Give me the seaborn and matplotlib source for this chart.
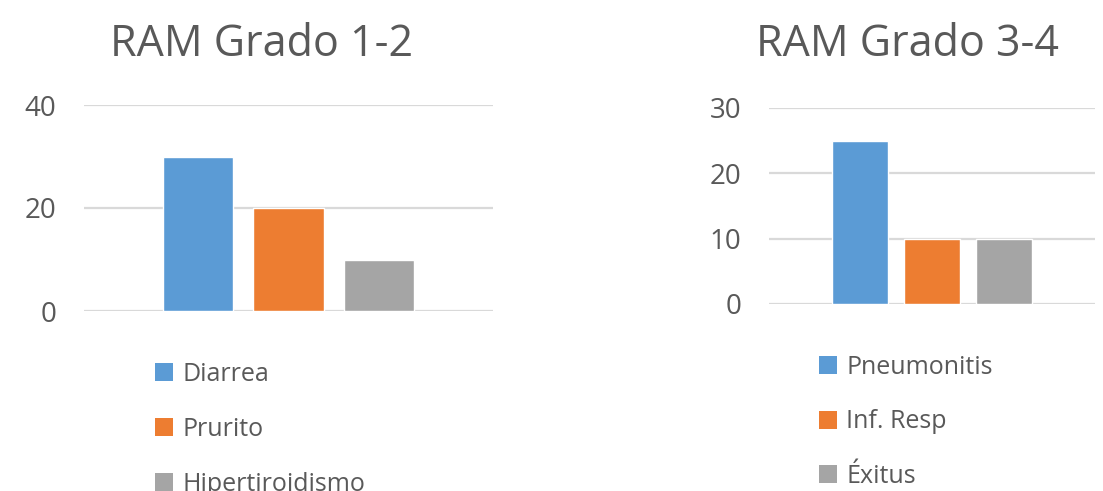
import matplotlib
matplotlib.use("Agg")
import matplotlib.pyplot as plt
import seaborn as sns
from matplotlib.patches import Patch

# datos
grado12_labels = ["Diarrea", "Prurito", "Hipertiroidismo"]
grado12_values = [30, 20, 10]
grado34_labels = ["Pneumonitis", "Inf. Resp", "Éxitus"]
grado34_values = [25, 10, 10]
colores = ["#5B9BD5", "#ED7D31", "#A5A5A5"]

sns.set_style("white")
plt.rcParams['font.family'] = ['Open Sans', 'DejaVu Sans']
txt = "#595959"

fig = plt.figure(figsize=(11.03, 4.91), dpi=100)
W, H = 1103, 491


def panel(box, labels, values, ymax, step, title, title_x, leg_xy, spacing):
    x0, y0, x1, y1 = box
    ax = fig.add_axes([x0 / W, 1 - y1 / H, (x1 - x0) / W, (y1 - y0) / H])
    sns.barplot(x=labels, y=values, hue=labels, palette=colores, ax=ax,
                width=0.78, legend=False, saturation=1)
    ax.set_xlim(-1.26, 3.26)
    ax.set_ylim(0, ymax)
    ax.set_yticks(range(0, ymax + 1, step))
    ax.set_xticks([])
    ax.set_axisbelow(True)
    ax.yaxis.grid(True, color="#D9D9D9", linewidth=1.6)
    sns.despine(ax=ax, left=True, bottom=True)
    ax.tick_params(axis="y", length=0, pad=20, labelsize=20, labelcolor=txt)
    ax.set_xlabel("")
    ax.set_ylabel("")
    fig.text(title_x / W, 1 - 45 / H, title, ha="center", va="center",
             fontsize=31, color=txt)
    handles = [Patch(facecolor=c, edgecolor="none") for c in colores]
    fig.legend(handles=handles, labels=labels, loc="upper left",
               bbox_to_anchor=(leg_xy[0] / W, 1 - leg_xy[1] / H),
               bbox_transform=fig.transFigure, frameon=False, fontsize=18,
               labelcolor=txt, handlelength=0.72, handleheight=0.72,
               handletextpad=0.38, labelspacing=spacing, borderpad=0,
               borderaxespad=0)
    return ax


panel((84, 105, 493, 311), grado12_labels, grado12_values, 40, 20,
      "RAM Grado 1-2", 262, (155, 362), 1.2)
panel((769, 108, 1095, 304), grado34_labels, grado34_values, 30, 10,
      "RAM Grado 3-4", 908, (819, 355), 1.18)

fig.savefig("out.png", dpi=100)
